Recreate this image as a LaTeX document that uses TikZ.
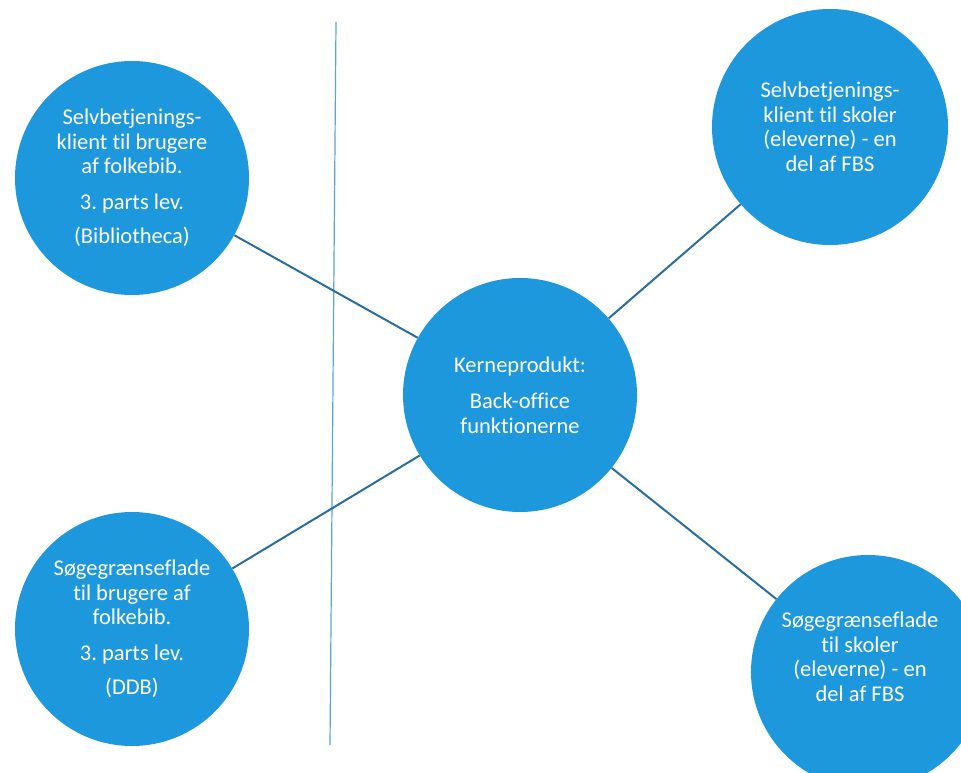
\documentclass[tikz,border=0pt]{standalone}
\usepackage{fontspec}
\setmainfont[Ligatures={NoCommon}]{Carlito}
\definecolor{circblue}{RGB}{30,152,220}
\definecolor{linkblue}{RGB}{42,110,160}
\definecolor{divblue}{RGB}{90,165,210}
\frenchspacing
\begin{document}
\begin{tikzpicture}[x=1pt,y=-1pt,
  bubble/.style={circle,fill=circblue,minimum size=234pt,inner sep=0pt,text=white,align=center,font=\fontsize{22.5}{24.5}\selectfont},
  bubtext/.style={text=white,align=center,inner sep=0pt,font=\fontsize{22.5}{24.5}\selectfont},
  link/.style={draw=linkblue,line width=2pt},
  divider/.style={draw=divblue,line width=1.2pt}]
\clip (0,0) rectangle (961,773);
\fill[white] (0,0) rectangle (961,773);
\coordinate (dtop) at (336,22);
\coordinate (dbot) at (330,745);
\draw[divider] (dtop) -- (dbot);
\node[bubble] (tl) at (132,178) {Selvbetjenings-\\klient til brugere\\af folkebib.\\[11pt]3. parts lev.\\[10pt](Bibliotheca)};
\node[bubble] (bl) at (132,629) {Søgegrænseflade\\til brugere af\\folkebib.\\[11pt]3. parts lev.\\[10pt](DDB)};
\node[bubble] (c) at (520,395) {Kerneprodukt:\\[12pt]Back-office\\funktionerne};
\node[bubble,minimum size=236pt] (tr) at (830,127) {Selvbetjenings-\\klient til skoler\\(eleverne) - en\\del af FBS};
\node[bubble] (br) at (868,672) {};
\node[bubtext] (brt) at (860,657) {Søgegrænseflade\\til skoler\\(eleverne) - en\\del af FBS};
\draw[link] (tl) -- (c);
\draw[link] (bl) -- (c);
\draw[link] (tr) -- (c);
\draw[link] (br) -- (c);
\end{tikzpicture}
\end{document}
